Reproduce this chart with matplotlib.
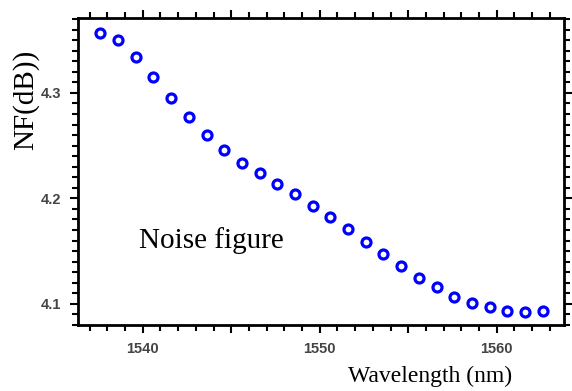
import matplotlib
matplotlib.use("Agg")
import matplotlib.pyplot as plt
from matplotlib.ticker import MultipleLocator, FuncFormatter

# wavelength (nm) and noise figure (dB)
wavelength = [1537.6, 1538.6, 1539.6, 1540.6, 1541.6, 1542.6, 1543.6, 1544.6,
              1545.6, 1546.6, 1547.6, 1548.6, 1549.6, 1550.6, 1551.6, 1552.6,
              1553.6, 1554.6, 1555.6, 1556.6, 1557.6, 1558.6, 1559.6, 1560.6,
              1561.6, 1562.6]
nf_db = [4.357, 4.350, 4.334, 4.315, 4.295, 4.277, 4.260, 4.246,
         4.234, 4.224, 4.214, 4.204, 4.193, 4.182, 4.171, 4.159,
         4.147, 4.136, 4.125, 4.116, 4.107, 4.101, 4.097, 4.093,
         4.092, 4.093]

SERIF = "Liberation Serif"
SANS = "Liberation Sans"

fig = plt.figure(figsize=(5.72, 3.91), dpi=100)
ax = fig.add_axes([0.1364, 0.1688, 0.986 - 0.1364, 0.954 - 0.1688])

ax.plot(wavelength, nf_db, linestyle="none", marker="o", markersize=6.5,
        markerfacecolor="white", markeredgecolor="#0000ff", markeredgewidth=2.3)

ax.set_xlim(1536.34, 1563.8)
ax.set_ylim(4.080, 4.371)

# ticks: outward on all four sides, labels only bottom/left
ax.xaxis.set_major_locator(MultipleLocator(5))
ax.xaxis.set_minor_locator(MultipleLocator(1))
ax.xaxis.set_major_formatter(FuncFormatter(
    lambda v, p: f"{v:.0f}" if abs(v % 10) < 1e-6 else ""))
ax.yaxis.set_major_locator(MultipleLocator(0.1))
ax.yaxis.set_minor_locator(MultipleLocator(0.01))
ax.yaxis.set_major_formatter(FuncFormatter(lambda v, p: f"{v:.1f}"))

ax.tick_params(which="both", direction="out", top=True, right=True,
               labeltop=False, labelright=False, width=1.5, color="black")
ax.tick_params(which="major", length=6)
ax.tick_params(which="minor", length=4)
ax.tick_params(axis="both", which="major", labelsize=10.5,
               labelcolor="#444444", pad=6)
for lab in ax.get_xticklabels() + ax.get_yticklabels():
    lab.set_family(SANS)
    lab.set_fontweight("bold")

for sp in ax.spines.values():
    sp.set_linewidth(2.0)

ax.text(1539.8, 4.153, "Noise figure", ha="left", va="baseline",
        fontsize=21, family=SERIF)

fig.text(0.045, 0.744, "NF(dB))", rotation=90, ha="center", va="center",
         fontsize=21, family=SERIF)
fig.text(0.608, 0.023, "Wavelength (nm)", ha="left", va="baseline",
         fontsize=17, family=SERIF)

fig.savefig("out.png", dpi=100, facecolor="white")
